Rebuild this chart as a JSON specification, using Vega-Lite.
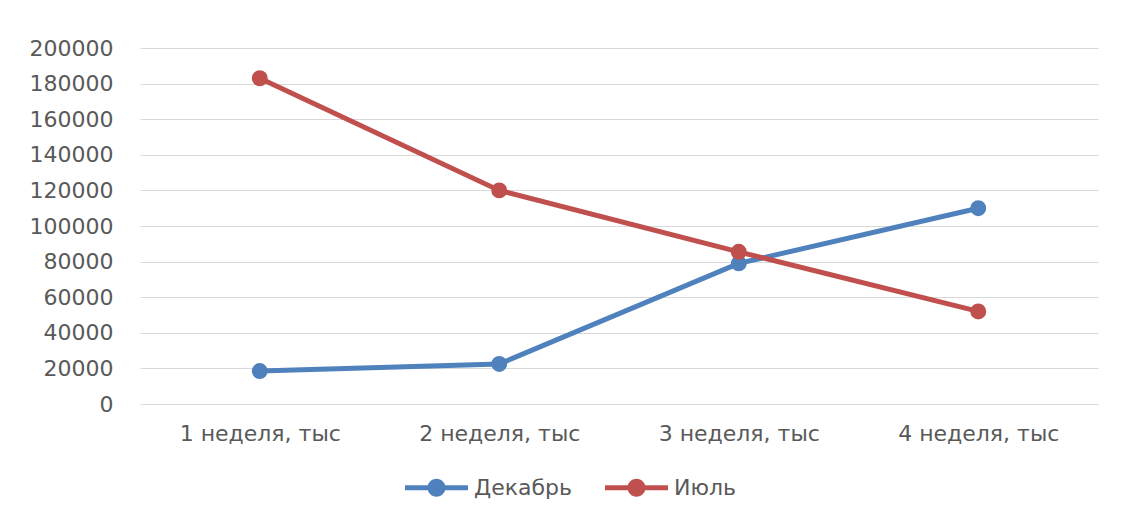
{
  "$schema": "https://vega.github.io/schema/vega-lite/v6.json",
  "autosize": {"type": "none"},
  "padding": {"left": 140, "top": 48, "right": 23, "bottom": 116},
  "width": 958,
  "height": 356,
  "background": "white",
  "config": {
    "view": {"stroke": null},
    "font": "DejaVu Sans",
    "axis": {"labelFont": "DejaVu Sans", "labelFontSize": 22, "labelColor": "#595959"},
    "legend": {"labelFont": "DejaVu Sans", "labelFontSize": 22, "labelColor": "#595959"}
  },
  "data": {
    "values": [
      {"week": "1 неделя, тыс", "series": "Декабрь", "value": 18500},
      {"week": "2 неделя, тыс", "series": "Декабрь", "value": 22500},
      {"week": "3 неделя, тыс", "series": "Декабрь", "value": 79000},
      {"week": "4 неделя, тыс", "series": "Декабрь", "value": 110000},
      {"week": "1 неделя, тыс", "series": "Июль", "value": 183000},
      {"week": "2 неделя, тыс", "series": "Июль", "value": 120000},
      {"week": "3 неделя, тыс", "series": "Июль", "value": 85500},
      {"week": "4 неделя, тыс", "series": "Июль", "value": 52000}
    ]
  },
  "encoding": {
    "x": {
      "field": "week",
      "type": "nominal",
      "sort": null,
      "scale": {"type": "point", "padding": 0.5},
      "axis": {
        "title": null,
        "labelAngle": 0,
        "domain": false,
        "ticks": false,
        "grid": false,
        "labelPadding": 19
      }
    },
    "y": {
      "field": "value",
      "type": "quantitative",
      "scale": {"domain": [0, 200000], "nice": false},
      "axis": {
        "title": null,
        "values": [0, 20000, 40000, 60000, 80000, 100000, 120000, 140000, 160000, 180000, 200000],
        "format": "d",
        "domain": false,
        "ticks": false,
        "grid": true,
        "gridColor": "#d9d9d9",
        "gridWidth": 1,
        "labelPadding": 27
      }
    },
    "color": {
      "field": "series",
      "type": "nominal",
      "sort": ["Декабрь", "Июль"],
      "scale": {"domain": ["Декабрь", "Июль"], "range": ["#4F81BD", "#C0504D"]},
      "legend": {
        "title": null,
        "orient": "none",
        "legendX": 265,
        "legendY": 408,
        "direction": "horizontal",
        "symbolType": "M -1 -0.08 L 1 -0.08 L 1 0.08 L -1 0.08 Z M 0.286 0 A 0.286 0.286 0 1 1 -0.286 0 A 0.286 0.286 0 1 1 0.286 0 Z",
        "symbolSize": 3969,
        "symbolStrokeWidth": 0,
        "labelOffset": 6,
        "columnPadding": 33,
        "encode": {
          "symbols": {
            "update": {
              "fill": {"scale": "color", "field": "value"},
              "strokeWidth": {"value": 0},
              "opacity": {"value": 1}
            }
          }
        }
      }
    }
  },
  "layer": [
    {"mark": {"type": "line", "strokeWidth": 5}},
    {"mark": {"type": "point", "filled": true, "size": 254, "opacity": 1}}
  ]
}
